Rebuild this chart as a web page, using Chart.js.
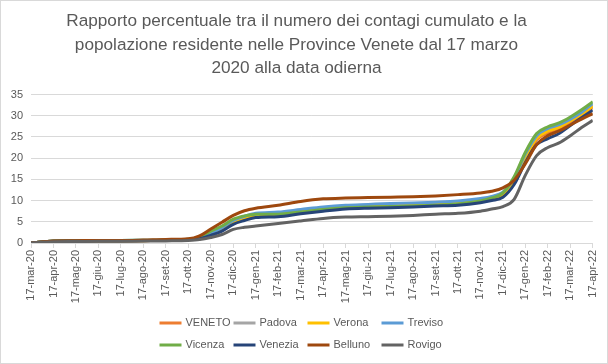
<!DOCTYPE html>
<html>
<head>
<meta charset="utf-8">
<script src="https://cdn.jsdelivr.net/npm/chart.js@4"></script>
<style>
  body { margin: 0; background: #fff; }
</style>
</head>
<body>
<canvas id="chart" width="608" height="364"></canvas>
<script>
// month index on the x axis (0 = 17-mar-20, 25 = 17-apr-22)
var xPoints = [0, 1, 2, 3, 4, 5, 6, 7, 7.5, 8, 8.5, 9, 9.5, 10, 11, 12, 13, 14, 15, 16, 17, 18, 19, 20, 20.5, 21, 21.5, 22, 22.5, 23, 23.5, 24, 24.5, 25];

var tickLabels = ["17-mar-20", "17-apr-20", "17-mag-20", "17-giu-20", "17-lug-20", "17-ago-20", "17-set-20", "17-ott-20",
  "17-nov-20", "17-dic-20", "17-gen-21", "17-feb-21", "17-mar-21", "17-apr-21", "17-mag-21", "17-giu-21", "17-lug-21",
  "17-ago-21", "17-set-21", "17-ott-21", "17-nov-21", "17-dic-21", "17-gen-22", "17-feb-22", "17-mar-22", "17-apr-22"];

var seriesNames = ["VENETO", "Padova", "Verona", "Treviso", "Vicenza", "Venezia", "Belluno", "Rovigo"];

var veneto  = [0, 0.4, 0.45, 0.5, 0.5, 0.55, 0.6, 0.8, 1.0, 1.9, 3.1, 4.7, 5.7, 6.4, 6.7, 7.3, 7.9, 8.4, 8.6, 8.7, 8.8, 9.0, 9.3, 9.9, 10.4, 11.3, 14.4, 19.9, 24.3, 26.0, 27.0, 28.5, 30.1, 32.0];
var padova  = [0, 0.45, 0.5, 0.55, 0.55, 0.6, 0.65, 0.85, 1.1, 2.1, 3.4, 5.0, 6.1, 6.8, 7.1, 7.7, 8.3, 8.7, 8.9, 9.1, 9.2, 9.4, 9.7, 10.3, 10.8, 11.8, 15.0, 20.6, 25.0, 26.8, 27.6, 29.0, 30.6, 32.6];
var verona  = [0, 0.4, 0.45, 0.5, 0.5, 0.55, 0.6, 0.8, 1.0, 1.9, 3.2, 4.8, 5.9, 6.6, 6.9, 7.5, 8.1, 8.6, 8.8, 8.9, 9.0, 9.2, 9.5, 10.1, 10.6, 11.5, 14.6, 20.2, 24.7, 26.4, 27.3, 28.8, 30.4, 32.3];
var treviso = [0, 0.5, 0.55, 0.6, 0.6, 0.65, 0.7, 0.9, 1.2, 2.3, 3.6, 5.3, 6.3, 7.0, 7.3, 7.9, 8.5, 8.9, 9.1, 9.3, 9.4, 9.6, 9.9, 10.5, 11.0, 12.0, 15.3, 21.0, 25.3, 27.0, 27.9, 29.2, 30.8, 32.9];
var vicenza = [0, 0.5, 0.55, 0.6, 0.6, 0.65, 0.7, 0.9, 1.4, 2.8, 4.0, 5.6, 6.4, 6.8, 6.8, 7.3, 7.9, 8.3, 8.5, 8.6, 8.7, 8.9, 9.2, 9.9, 10.6, 11.8, 15.6, 21.4, 25.8, 27.4, 28.3, 29.7, 31.4, 33.3];
var venezia = [0, 0.4, 0.45, 0.5, 0.5, 0.55, 0.6, 0.8, 1.0, 1.8, 2.8, 4.4, 5.3, 6.0, 6.2, 6.9, 7.5, 8.0, 8.2, 8.3, 8.5, 8.7, 8.9, 9.5, 10.0, 10.8, 13.8, 19.0, 23.2, 24.6, 25.8, 27.7, 29.5, 31.3];
var belluno = [0, 0.5, 0.55, 0.6, 0.6, 0.7, 0.85, 1.0, 1.7, 3.3, 4.9, 6.5, 7.6, 8.2, 8.9, 9.8, 10.4, 10.6, 10.7, 10.8, 10.9, 11.1, 11.4, 11.8, 12.2, 13.0, 14.8, 18.7, 23.2, 25.3, 26.4, 27.8, 29.2, 30.5];
var rovigo  = [0, 0.3, 0.35, 0.4, 0.4, 0.45, 0.5, 0.6, 0.8, 1.3, 2.0, 3.2, 3.7, 4.0, 4.6, 5.2, 5.8, 6.1, 6.2, 6.3, 6.5, 6.8, 7.0, 7.5, 8.0, 8.6, 10.3, 16.0, 20.6, 22.5, 23.6, 25.3, 27.2, 28.9];

var seriesValues = [veneto, padova, verona, treviso, vicenza, venezia, belluno, rovigo];
var seriesColors = ["#ED7D31", "#A5A5A5", "#FFC000", "#5B9BD5", "#70AD47", "#264478", "#9E480E", "#636363"];

var fontFamily = "'Liberation Sans', Arial, sans-serif";
var textColor = "#595959";

var datasets = [];
for (var i = 0; i < seriesNames.length; i++) {
  var values = seriesValues[i];
  datasets.push({
    label: seriesNames[i],
    data: xPoints.map(function (x, j) { return { x: x, y: values[j] }; }),
    borderColor: seriesColors[i],
    backgroundColor: seriesColors[i],
    borderWidth: 3,
    pointRadius: 0,
    cubicInterpolationMode: "monotone",
    order: seriesNames.length - i // later series drawn on top, like Excel
  });
}

// background + outer border
var framePlugin = {
  id: "frame",
  beforeDraw: function (chart) {
    var ctx = chart.ctx;
    ctx.save();
    ctx.fillStyle = "#fff";
    ctx.fillRect(0, 0, chart.width, chart.height);
    ctx.strokeStyle = "#d9d9d9";
    ctx.lineWidth = 1;
    ctx.strokeRect(0.5, 0.5, chart.width - 1, chart.height - 1);
    ctx.restore();
  }
};

// legend in a 4-column grid under the axis
var gridLegend = {
  id: "gridLegend",
  afterDraw: function (chart) {
    var ctx = chart.ctx;
    var sets = chart.data.datasets;
    var cols = 4, lineLen = 22, gap = 4, colW = 74;
    ctx.save();
    ctx.font = "11px " + fontFamily;
    var startX = chart.width / 2 + 3.5 - (cols * colW) / 2;
    var rowY = [323, 345];
    ctx.textBaseline = "middle";
    ctx.textAlign = "left";
    sets.forEach(function (ds, k) {
      var x = startX + (k % cols) * colW;
      var y = rowY[Math.floor(k / cols)];
      ctx.strokeStyle = ds.borderColor;
      ctx.lineWidth = 3;
      ctx.beginPath();
      ctx.moveTo(x, y);
      ctx.lineTo(x + lineLen, y);
      ctx.stroke();
      ctx.fillStyle = textColor;
      ctx.fillText(ds.label, x + lineLen + gap, y);
    });
    ctx.restore();
  }
};

var ctx = document.getElementById("chart").getContext("2d");
var chart = new Chart(ctx, {
  type: "line",
  data: { datasets: datasets },
  plugins: [framePlugin, gridLegend],
  options: {
    responsive: false,
    animation: false,
    layout: { padding: { left: 0, right: 15, top: 0, bottom: 60 } },
    plugins: {
      legend: { display: false },
      tooltip: { enabled: false },
      title: {
        display: true,
        text: [
          "Rapporto percentuale tra il numero dei contagi cumulato e la",
          "popolazione residente nelle Province Venete dal 17 marzo",
          "2020 alla data odierna"
        ],
        color: textColor,
        font: { family: fontFamily, size: 17.2, weight: "normal", lineHeight: 1.366 },
        padding: { top: 10, bottom: 14 }
      }
    },
    scales: {
      x: {
        type: "linear",
        min: 0,
        max: 25,
        afterFit: function (scale) { scale.height = 61; },
        ticks: {
          stepSize: 1,
          autoSkip: false,
          minRotation: 90,
          maxRotation: 90,
          padding: 2,
          color: textColor,
          font: { family: fontFamily, size: 11 },
          callback: function (v) { return tickLabels[v]; }
        },
        grid: { drawOnChartArea: false, drawTicks: true, tickLength: 5, color: "#d9d9d9" },
        border: { color: "#d9d9d9" }
      },
      y: {
        min: 0,
        max: 35,
        afterFit: function (scale) { scale.width = 31; },
        ticks: {
          stepSize: 5,
          padding: 8,
          color: textColor,
          font: { family: fontFamily, size: 11 }
        },
        grid: { color: "#d9d9d9", drawTicks: false },
        border: { display: false }
      }
    }
  }
});
</script>
</body>
</html>
